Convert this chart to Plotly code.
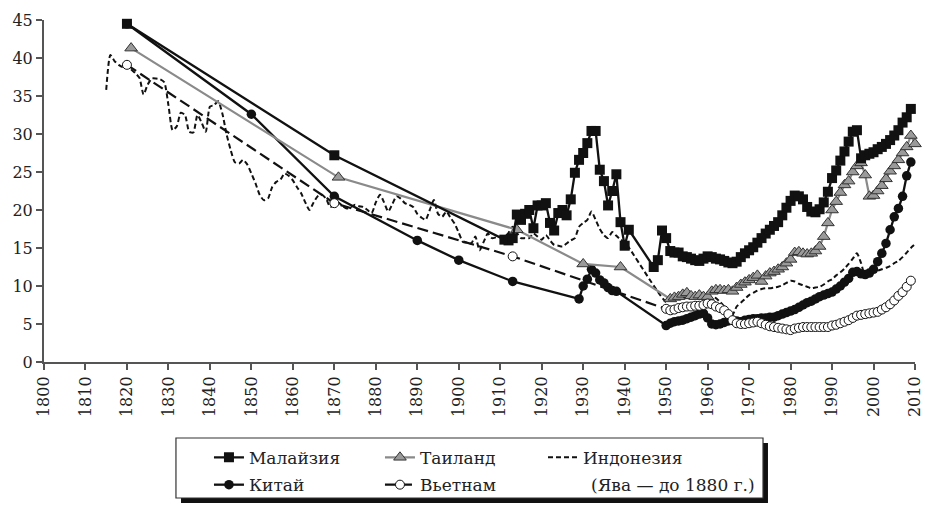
import plotly.graph_objects as go

# Малайзия
mal_years = [1820, 1870, 1911, 1912, 1913] + list(range(1914, 1942)) + list(range(1947, 2010))
mal_vals = [44.5, 27.2, 16.1, 16.0, 16.3,
            19.4, 18.7, 19.5, 20.0, 17.6, 20.6, 20.6, 20.9, 18.3, 17.3,
            19.6, 20.0, 19.3, 21.4, 24.9, 26.6, 27.5, 28.8, 30.4, 30.4,
            25.3, 23.8, 20.6, 22.5, 24.7, 18.4, 15.3, 17.4,
            12.5, 13.4, 17.3,
            16.3, 14.6, 14.4, 14.4, 13.9, 13.8, 13.6, 13.4, 13.3, 13.6,
            13.9, 13.8, 13.6, 13.5, 13.3, 13.1, 13.0, 13.2, 13.8, 14.3,
            14.7, 15.1, 15.7, 16.3, 16.9, 17.4, 17.9, 18.4, 19.3, 20.3,
            21.2, 21.9, 21.8, 21.4, 20.4, 19.8, 19.7, 20.1, 21.0, 22.4,
            24.2, 25.2, 26.5, 27.7, 29.0, 30.3, 30.5, 26.8, 27.2, 27.4,
            27.6, 28.0, 28.3, 28.7, 29.2, 29.8, 30.5, 31.5, 32.2, 33.3]

# Китай
chn_years = [1820, 1850, 1870, 1890, 1900, 1913] + list(range(1929, 1939)) + list(range(1950, 2010))
chn_vals = [44.5, 32.6, 21.8, 16.0, 13.4, 10.6,
            8.3, 10.0, 10.9, 12.2, 11.7, 10.8, 10.4, 9.8, 9.4, 9.3,
            4.8, 5.1, 5.3, 5.4, 5.5, 5.7, 5.9, 6.1, 6.3, 6.4,
            5.8, 5.0, 4.9, 5.0, 5.2, 5.4, 5.5, 5.4, 5.3, 5.5,
            5.6, 5.7, 5.7, 5.8, 5.8, 5.9, 5.9, 6.1, 6.3, 6.5,
            6.7, 6.9, 7.2, 7.5, 7.8, 8.0, 8.3, 8.6, 8.8, 9.0,
            9.2, 9.6, 10.0, 10.5, 11.0, 11.8, 11.9, 11.6, 11.5, 11.7,
            12.2, 13.2, 14.3, 15.6, 17.4, 19.1, 20.2, 21.8, 24.5, 26.3]

# Таиланд
tha_years = [1821, 1871, 1914, 1930, 1939] + list(range(1951, 2011))
tha_vals = [41.3, 24.3, 17.4, 12.9, 12.5,
            8.3, 8.5, 8.6, 8.9, 9.1, 8.7, 8.6, 8.8, 8.6, 8.6,
            9.3, 9.5, 9.5, 9.4, 9.5, 9.3, 9.8, 10.2, 10.5, 10.8,
            11.1, 11.4, 10.6, 11.3, 11.7, 11.9, 12.2, 12.5, 13.0, 13.5,
            14.4, 14.5, 14.3, 14.2, 14.3, 14.6, 15.2, 16.5, 18.3, 20.0,
            21.1, 22.3, 23.3, 23.8, 25.0, 25.8, 26.2, 24.6, 21.8, 21.9,
            22.5, 23.2, 24.1, 25.1, 25.8, 26.6, 27.5, 28.3, 29.8, 28.7]

# Вьетнам
vnm_years = [1820, 1870, 1913] + list(range(1950, 2010))
vnm_vals = [39.1, 20.9, 13.9,
            7.0, 6.8, 6.9, 7.1, 7.2, 7.3, 7.3, 7.4, 7.4, 7.5,
            7.7, 7.6, 7.3, 7.1, 6.8, 6.3, 5.5, 5.1, 5.0, 5.0,
            5.1, 5.2, 5.3, 5.1, 4.9, 4.7, 4.6, 4.5, 4.4, 4.3,
            4.2, 4.4, 4.5, 4.6, 4.6, 4.6, 4.6, 4.6, 4.6, 4.6,
            4.8, 4.9, 5.1, 5.3, 5.5, 5.8, 6.1, 6.2, 6.3, 6.4,
            6.5, 6.6, 6.9, 7.2, 7.6, 8.1, 8.7, 9.2, 9.9, 10.7]

# Индонезия (Ява до 1880)
idn_years = list(range(1815, 1941)) + list(range(1950, 2011))
idn_vals = [35.8, 40.4, 39.6, 39.1, 38.8,
            39.1, 38.5, 38.0, 37.4, 35.2, 36.5, 37.3, 37.3, 37.2, 36.8,
            33.8, 30.5, 31.0, 32.8, 32.5, 30.3, 30.2, 32.5, 31.5, 30.3,
            33.6, 33.8, 34.3, 32.7, 30.0, 27.9, 26.3, 26.1, 26.6, 26.0,
            24.8, 23.5, 22.0, 21.3, 21.5, 23.0, 23.7, 24.0, 24.8, 24.5,
            23.9, 23.0, 22.2, 21.0, 20.0, 21.0, 21.8, 22.0, 21.5, 20.4,
            20.6, 21.0, 20.5, 20.2, 20.4, 20.7, 20.5, 20.4, 20.0, 19.6,
            21.0, 22.0, 21.0, 19.8, 20.8, 21.8, 21.5, 20.9, 20.7, 20.4,
            19.5, 19.0, 18.7, 20.0, 21.3, 19.5, 19.1, 19.8, 19.0, 18.2,
            17.0, 15.8, 15.7, 15.6, 16.5, 14.7, 15.8, 16.9, 16.3, 16.4,
            16.5, 16.5, 17.0, 17.8, 17.0, 16.3, 16.3, 16.3, 16.9, 16.5,
            16.1, 16.7, 16.0, 15.4, 15.3, 15.2, 15.6, 16.0, 16.3, 17.8,
            18.3, 18.7, 19.8, 18.7, 17.5, 16.7, 16.3, 17.1, 16.6, 16.1,
            15.8,
            7.9, 8.2, 8.4, 8.5, 8.6, 8.5, 8.4, 8.6, 8.3, 8.4,
            8.5, 8.6, 8.4, 7.9, 7.3, 6.5, 6.2, 7.3, 7.8, 8.3,
            8.8, 9.1, 9.4, 9.6, 9.7, 9.7, 9.8, 9.9, 10.1, 10.4,
            10.7, 10.6, 10.3, 10.1, 9.9, 9.7, 9.8, 9.9, 10.2, 10.6,
            10.9, 11.4, 11.8, 12.3, 12.9, 13.6, 14.3, 13.0, 11.3, 11.6,
            11.8, 12.0, 12.2, 12.4, 12.6, 13.0, 13.3, 13.8, 14.4, 15.0,
            15.5]

x_ticks = list(range(1800, 2011, 10))
y_ticks = list(range(0, 46, 5))

FONT = "DejaVu Serif, Liberation Serif, serif"
BLACK = "#111111"
TXT = "#222222"

fig = go.Figure()

fig.add_trace(go.Scatter(
    x=idn_years, y=idn_vals, name="Индонезия", mode="lines",
    line=dict(color=BLACK, width=2, dash="5px,3px", shape="spline", smoothing=0.6),
    legend="legend3"))

fig.add_trace(go.Scatter(
    x=chn_years, y=chn_vals, name="Китай", mode="lines+markers",
    line=dict(color=BLACK, width=2.3),
    marker=dict(symbol="circle", size=9.5, color=BLACK),
    legend="legend2"))

fig.add_trace(go.Scatter(
    x=tha_years, y=tha_vals, name="Таиланд", mode="lines+markers",
    line=dict(color="#8a8a8a", width=2.2),
    marker=dict(symbol="triangle-up", size=11, color="#9a9a9a",
                line=dict(color="#333333", width=1)),
    legend="legend"))

fig.add_trace(go.Scatter(
    x=vnm_years, y=vnm_vals, name="Вьетнам", mode="lines+markers",
    line=dict(color=BLACK, width=2.2, dash="11px,5px"),
    marker=dict(symbol="circle", size=9, color="white",
                line=dict(color=BLACK, width=1)),
    legend="legend2"))

fig.add_trace(go.Scatter(
    x=mal_years, y=mal_vals, name="Малайзия", mode="lines+markers",
    line=dict(color=BLACK, width=2.3),
    marker=dict(symbol="square", size=10, color=BLACK),
    legend="legend", legendrank=1))

fig.update_traces(cliponaxis=False)

axis_common = dict(
    showgrid=False, zeroline=False, showline=True, linecolor="#555555", linewidth=2,
    ticks="outside", tickcolor="#555555", tickwidth=2, ticklen=6, automargin=False,
    tickfont=dict(family=FONT, size=16, color=TXT),
)

fig.update_xaxes(range=[1800, 2010], tickvals=x_ticks, tickangle=-90, **axis_common)
fig.update_yaxes(range=[0, 45], tickvals=y_ticks, **axis_common)

leg_common = dict(orientation="h", bgcolor="rgba(0,0,0,0)", borderwidth=0,
                  font=dict(family=FONT, size=17, color=TXT),
                  xanchor="left", yanchor="middle", entrywidth=126,
                  traceorder="normal")

fig.update_layout(
    width=925, height=505,
    margin=dict(l=44, r=10, t=20, b=143, autoexpand=False),
    paper_bgcolor="white", plot_bgcolor="white",
    font=dict(family=FONT, size=17, color=TXT),
    legend=dict(x=0.1894, y=-0.28, **leg_common),
    legend2=dict(x=0.1894, y=-0.36, **leg_common),
    legend3=dict(x=0.5729, y=-0.28, **leg_common),
    shapes=[
        dict(type="rect", xref="paper", yref="paper", x0=0.1573, x1=0.8312,
             y0=-0.4123, y1=-0.2368, fillcolor="#111111", line=dict(width=0), layer="below"),
        dict(type="rect", xref="paper", yref="paper", x0=0.1515, x1=0.8255,
             y0=-0.3977, y1=-0.2222, fillcolor="white",
             line=dict(color="#333333", width=1.2), layer="below"),
    ],
    annotations=[
        dict(text="(Ява — до 1880 г.)", xref="paper", yref="paper", x=0.6257, y=-0.3596,
             xanchor="left", yanchor="middle", showarrow=False,
             font=dict(family=FONT, size=17, color=TXT)),
    ],
)

# drop the default 8px body margin so the figure sits at the window's corner
fig.write_html("out.html", config={"displayModeBar": False},
               post_script="document.body.style.margin='0';document.body.style.overflow='hidden';")
